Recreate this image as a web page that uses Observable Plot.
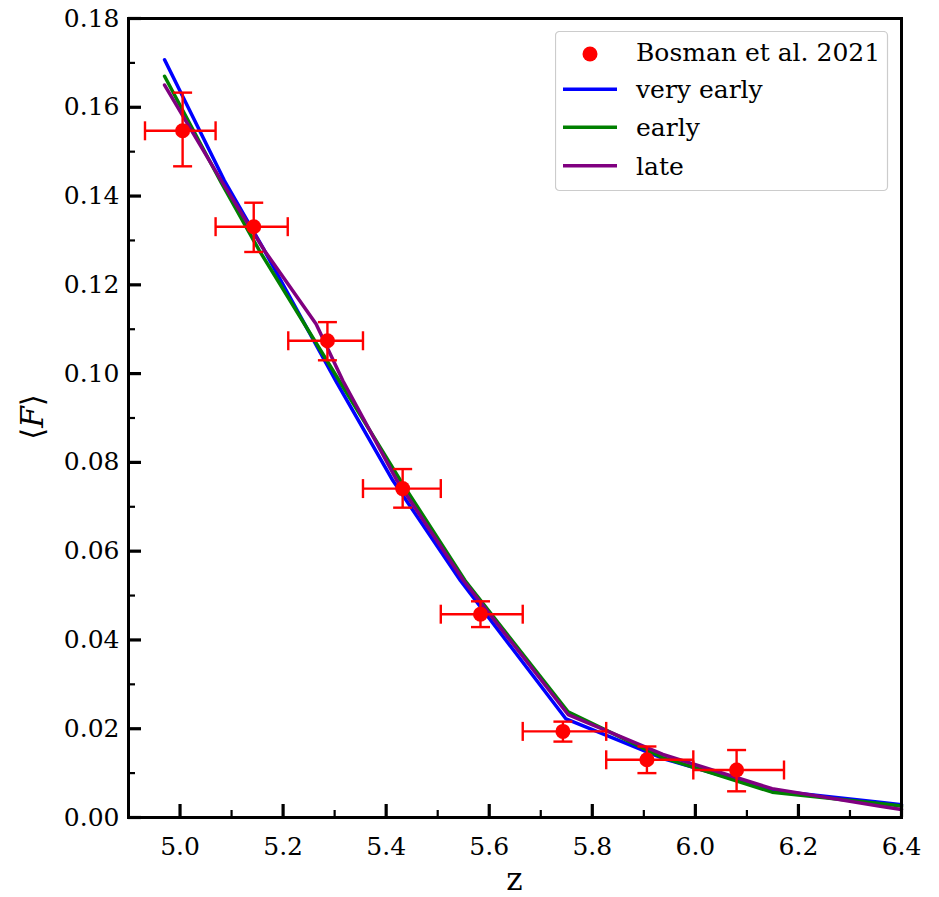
<!DOCTYPE html>
<html>
<head>
<meta charset="utf-8">
<script src="https://cdn.jsdelivr.net/npm/d3@7"></script>
<script src="https://cdn.jsdelivr.net/npm/@observablehq/plot@0.6"></script>
<style>
  body { margin: 0; background: #fff; }
  #wrap { position: relative; width: 939px; height: 897px; font-family: "DejaVu Serif", serif; }
  #legend { position: absolute; left: 555px; top: 31px; }
</style>
</head>
<body>
<div id="wrap"></div>
<script>
// Bosman et al. 2021 measurements
const bosmanZ   = [5.005, 5.143, 5.286, 5.432, 5.583, 5.743, 5.906, 6.080];
const bosmanF   = [0.1547, 0.1331, 0.1074, 0.0741, 0.0458, 0.0194, 0.0130, 0.0107];
const bosmanFlo = [0.1467, 0.1274, 0.1030, 0.0698, 0.0429, 0.0171, 0.0100, 0.0059];
const bosmanFhi = [0.1633, 0.1385, 0.1116, 0.0785, 0.0487, 0.0216, 0.0160, 0.0152];
const bosmanZlo = [4.932, 5.069, 5.210, 5.355, 5.506, 5.665, 5.827, 5.996];
const bosmanZhi = [5.069, 5.209, 5.355, 5.506, 5.665, 5.827, 5.996, 6.172];

// model curves
const veryEarlyZ = [4.97, 5.086, 5.161, 5.302, 5.413, 5.544, 5.749, 5.937, 6.149, 6.362, 6.40];
const veryEarlyF = [0.1707, 0.1435, 0.1283, 0.0984, 0.0759, 0.0534, 0.0222, 0.0133, 0.0061, 0.0034, 0.0029];
const earlyZ = [4.97, 5.080, 5.154, 5.309, 5.428, 5.553, 5.753, 5.937, 6.149, 6.362, 6.40];
const earlyF = [0.1670, 0.1430, 0.1277, 0.0984, 0.0759, 0.0534, 0.0238, 0.0135, 0.0057, 0.0031, 0.0026];
const lateZ = [4.97, 5.080, 5.164, 5.264, 5.316, 5.421, 5.550, 5.753, 5.937, 6.149, 6.362, 6.40];
const lateF = [0.1650, 0.1435, 0.1277, 0.1112, 0.0984, 0.0759, 0.0534, 0.0232, 0.0142, 0.0065, 0.0025, 0.0018];

// ticks
const xMajor = [5.0, 5.2, 5.4, 5.6, 5.8, 6.0, 6.2, 6.4];
const xMinor = [5.1, 5.3, 5.5, 5.7, 5.9, 6.1, 6.3];
const yMajor = [0, 0.02, 0.04, 0.06, 0.08, 0.10, 0.12, 0.14, 0.16, 0.18];
const yMinor = [0.01, 0.03, 0.05, 0.07, 0.09, 0.11, 0.13, 0.15, 0.17];

const seriesNames = ["Bosman et al. 2021", "very early", "early", "late"];
const seriesColors = ["#ff0000", "#0000ff", "#008000", "#800080"];

const pts = bosmanZ.map((z, i) => ({z, F: bosmanF[i], Flo: bosmanFlo[i], Fhi: bosmanFhi[i], zlo: bosmanZlo[i], zhi: bosmanZhi[i]}));
const toRows = (Z, F) => Z.map((z, i) => ({z, F: F[i]}));

const hcap = { draw(ctx, size) { const h = Math.sqrt(size / Math.PI); ctx.moveTo(-h, 0); ctx.lineTo(h, 0); } };
const vcap = { draw(ctx, size) { const h = Math.sqrt(size / Math.PI); ctx.moveTo(0, -h); ctx.lineTo(0, h); } };

const plot = Plot.plot({
  width: 939,
  height: 897,
  marginLeft: 128,
  marginRight: 38,
  marginTop: 18,
  marginBottom: 80,
  style: { fontFamily: '"DejaVu Serif", serif', fontSize: "25px", color: "black", background: "white", overflow: "visible" },
  x: { domain: [4.9, 6.4] },
  y: { domain: [0, 0.18] },
  marks: [
    Plot.line(toRows(veryEarlyZ, veryEarlyF), { x: "z", y: "F", stroke: seriesColors[1], strokeWidth: 3.5 }),
    Plot.line(toRows(earlyZ, earlyF), { x: "z", y: "F", stroke: seriesColors[2], strokeWidth: 3.5 }),
    Plot.line(toRows(lateZ, lateF), { x: "z", y: "F", stroke: seriesColors[3], strokeWidth: 3.5 }),
    Plot.ruleX(pts, { x: "z", y1: "Flo", y2: "Fhi", stroke: seriesColors[0], strokeWidth: 2.4 }),
    Plot.ruleY(pts, { y: "F", x1: "zlo", x2: "zhi", stroke: seriesColors[0], strokeWidth: 2.4 }),
    Plot.dot(pts, { x: "z", y: "Flo", symbol: hcap, r: 9.5, stroke: seriesColors[0], fill: "none", strokeWidth: 2.4 }),
    Plot.dot(pts, { x: "z", y: "Fhi", symbol: hcap, r: 9.5, stroke: seriesColors[0], fill: "none", strokeWidth: 2.4 }),
    Plot.dot(pts, { x: "zlo", y: "F", symbol: vcap, r: 9.5, stroke: seriesColors[0], fill: "none", strokeWidth: 2.4 }),
    Plot.dot(pts, { x: "zhi", y: "F", symbol: vcap, r: 9.5, stroke: seriesColors[0], fill: "none", strokeWidth: 2.4 }),
    Plot.dot(pts, { x: "z", y: "F", r: 7.5, fill: seriesColors[0], stroke: "none" }),
    Plot.frame({ stroke: "black", strokeWidth: 3 }),
    Plot.axisX(xMajor, { tickSize: -13, strokeWidth: 3.2, tickPadding: 33, tickFormat: d3.format(".1f"), label: null, fontSize: 25 }),
    Plot.axisX(xMinor, { tickSize: -7, strokeWidth: 2.2, tickFormat: () => "", label: null }),
    Plot.axisY(yMajor, { tickSize: -13, strokeWidth: 3.2, tickPadding: 22, tickFormat: d3.format(".2f"), label: null, fontSize: 25 }),
    Plot.axisY(yMinor, { tickSize: -7, strokeWidth: 2.2, tickFormat: () => "", label: null })
  ]
});

const wrap = document.getElementById("wrap");
wrap.appendChild(plot);

// axis titles
const svg = d3.select(plot);
svg.append("text")
  .attr("x", 514.5).attr("y", 890)
  .attr("text-anchor", "middle")
  .style("font-family", '"DejaVu Serif", serif').style("font-size", "31px").attr("fill", "black")
  .text("z");
const yl = svg.append("text")
  .attr("transform", "translate(43,417) rotate(-90)")
  .attr("text-anchor", "middle")
  .style("font-family", '"DejaVu Serif", serif').style("font-size", "31px").attr("fill", "black");
yl.append("tspan").text("⟨");
yl.append("tspan").style("font-style", "italic").text("F");
yl.append("tspan").text("⟩");

// legend
const L = d3.select(wrap).append("svg").attr("id", "legend").attr("width", 334).attr("height", 161);
L.append("rect").attr("x", 0.5).attr("y", 0.5).attr("width", 332).attr("height", 159).attr("rx", 4)
  .attr("fill", "white").attr("fill-opacity", 0.8).attr("stroke", "#cccccc").attr("stroke-width", 1.2);
const baselines = [29.5, 67.3, 105.2, 143.5];
const centers = [23, 58.3, 96.3, 134.7];
seriesNames.forEach((name, i) => {
  if (i === 0) {
    L.append("circle").attr("cx", 35).attr("cy", centers[i]).attr("r", 7.5).attr("fill", seriesColors[i]);
  } else {
    L.append("line").attr("x1", 8).attr("x2", 62).attr("y1", centers[i]).attr("y2", centers[i])
      .attr("stroke", seriesColors[i]).attr("stroke-width", 3.5);
  }
  L.append("text").attr("x", 81).attr("y", baselines[i])
    .style("font-family", '"DejaVu Serif", serif').style("font-size", "25px").attr("fill", "black")
    .text(name);
});
</script>
</body>
</html>
